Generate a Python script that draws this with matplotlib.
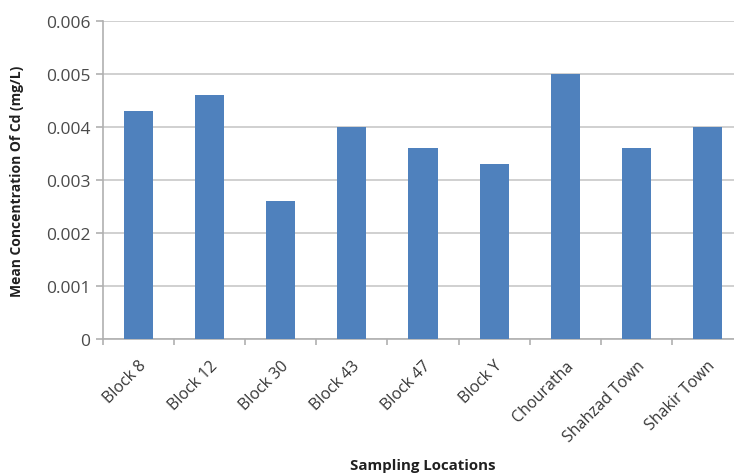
import matplotlib
matplotlib.use("Agg")
import numpy as np
from matplotlib import pyplot as plt

# 数据
locations = ["Block 8", "Block 12", "Block 30", "Block 43", "Block 47",
             "Block Y", "Chouratha", "Shahzad Town", "Shakir Town"]
cd_mean = [0.0043, 0.0046, 0.0026, 0.0040, 0.0036, 0.0033, 0.0050, 0.0036, 0.0040]
y_ticks = [0, 0.001, 0.002, 0.003, 0.004, 0.005, 0.006]
y_tick_labels = ["0", "0.001", "0.002", "0.003", "0.004", "0.005", "0.006"]

plt.rcParams['font.family'] = ['Open Sans', 'DejaVu Sans']

fig = plt.figure(figsize=(7.34, 4.77), dpi=100)
# 右侧超出画布，与原图一样被裁掉
ax = fig.add_axes([103 / 734, 137 / 477, 640 / 734, 318 / 477])

x = np.arange(len(locations))
ax.bar(x, cd_mean, width=0.41, color='#4f81bd', zorder=3)

ax.set_xlim(-0.5, len(locations) - 0.5)
ax.set_ylim(0, 0.006)
ax.set_yticks(y_ticks)
ax.set_yticklabels(y_tick_labels, fontsize=12.5, color='#4a4a4a')
ax.yaxis.grid(True, color='#c8c8c8', linewidth=1.2, zorder=0)

# x 轴刻度放在类别边界
ax.set_xticks(np.arange(len(locations) + 1) - 0.5)
ax.set_xticklabels([])
ax.set_xticks(x, minor=True)
ax.set_xticklabels(locations, minor=True, rotation=45, ha='right',
                   rotation_mode='anchor', fontsize=11.5, color='#363636')
ax.tick_params(axis='x', which='minor', length=0, pad=13)
ax.tick_params(axis='x', which='major', length=4, color='#b0b0b0', width=1.2)
ax.tick_params(axis='y', length=5, color='#b0b0b0', width=1.2, pad=4)

for s in ['top', 'right']:
    ax.spines[s].set_visible(False)
for s in ['left', 'bottom']:
    ax.spines[s].set_color('#b0b0b0')
    ax.spines[s].set_linewidth(1.2)

ax.set_ylabel("Mean Concentration Of Cd (mg/L)", fontsize=10, fontweight='bold',
              color='#202020')
ax.yaxis.set_label_coords(-0.124, 0.5)
ax.set_xlabel("Sampling Locations", fontsize=10.8, fontweight='bold', color='#202020')
ax.xaxis.set_label_coords(0.5, -0.375)

plt.savefig("out.png", dpi=100)
